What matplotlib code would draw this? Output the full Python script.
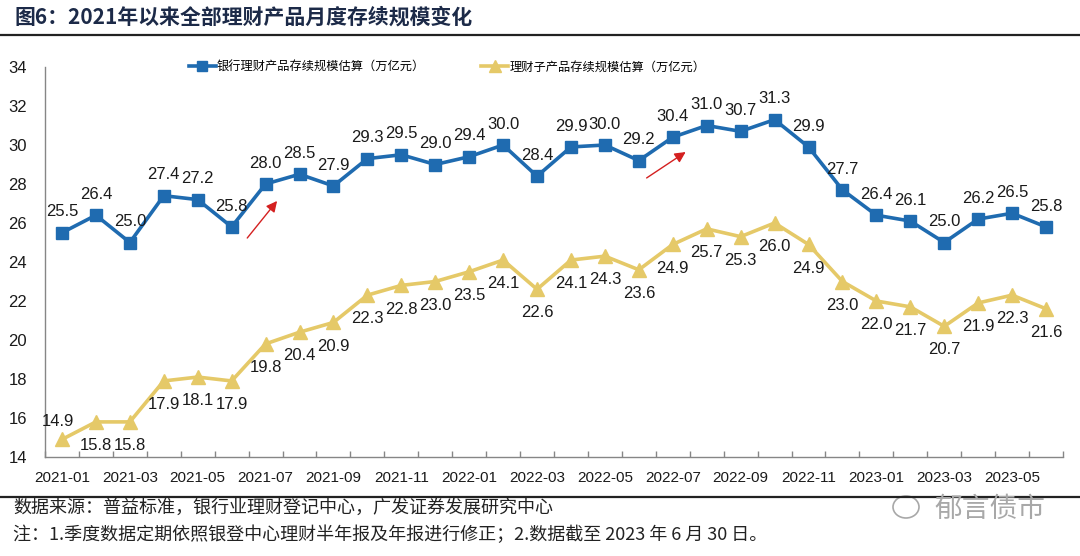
import matplotlib
matplotlib.use('Agg')
import matplotlib.pyplot as plt
import numpy as np
from matplotlib.lines import Line2D
from matplotlib.patches import Ellipse

# ---------------- data ----------------
months = ['2021-01', '2021-02', '2021-03', '2021-04', '2021-05', '2021-06',
          '2021-07', '2021-08', '2021-09', '2021-10', '2021-11', '2021-12',
          '2022-01', '2022-02', '2022-03', '2022-04', '2022-05', '2022-06',
          '2022-07', '2022-08', '2022-09', '2022-10', '2022-11', '2022-12',
          '2023-01', '2023-02', '2023-03', '2023-04', '2023-05', '2023-06']
bank_scale = [25.5, 26.4, 25.0, 27.4, 27.2, 25.8, 28.0, 28.5, 27.9, 29.3,
              29.5, 29.0, 29.4, 30.0, 28.4, 29.9, 30.0, 29.2, 30.4, 31.0,
              30.7, 31.3, 29.9, 27.7, 26.4, 26.1, 25.0, 26.2, 26.5, 25.8]
sub_scale = [14.9, 15.8, 15.8, 17.9, 18.1, 17.9, 19.8, 20.4, 20.9, 22.3,
             22.8, 23.0, 23.5, 24.1, 22.6, 24.1, 24.3, 23.6, 24.9, 25.7,
             25.3, 26.0, 24.9, 23.0, 22.0, 21.7, 20.7, 21.9, 22.3, 21.6]
series_names = ['银行理财产品存续规模估算（万亿元）', '理财子产品存续规模估算（万亿元）']
y_ticks = list(range(14, 35, 2))

title = '图6：2021年以来全部理财产品月度存续规模变化'
source_note = '数据来源：普益标准，银行业理财登记中心，广发证券发展研究中心'
note2 = '注：1.季度数据定期依照银登中心理财半年报及年报进行修正；2.数据截至 2023 年 6 月 30 日。'
watermark = '郁言债市'

# ---------------- style ----------------
BLUE = '#1f6bb0'
YELLOW = '#e5c968'
GRAY = '#868686'
CJK = ['Noto Sans CJK SC', 'DejaVu Sans']
plt.rcParams['font.family'] = ['Liberation Sans', 'Noto Sans CJK SC', 'DejaVu Sans']

W, H = 1080, 556
fig = plt.figure(figsize=(W / 100, H / 100), dpi=100)
ax = fig.add_axes([45 / W, (H - 457) / H, (1063 - 45) / W, (457 - 67) / H])

x = np.arange(len(months))
ax.plot(x, bank_scale, color=BLUE, lw=2.6, marker='s', ms=9, zorder=3)
ax.plot(x, sub_scale, color=YELLOW, lw=2.6, marker='^', ms=10, zorder=3)

for i, v in enumerate(bank_scale):
    ax.annotate(f'{v:.1f}', (i, v), xytext=(0, 15), textcoords='offset points',
                ha='center', va='center', fontsize=12, color='#1a1a1a')
for i, v in enumerate(sub_scale):
    dy = 13 if i == 0 else -17
    dx = -3 if i == 0 else 0
    ax.annotate(f'{v:.1f}', (i, v), xytext=(dx, dy), textcoords='offset points',
                ha='center', va='center', fontsize=12, color='#1a1a1a')

# red trend arrows
for (x0, y0), (x1, y1) in [((5.46, 25.23), (6.34, 27.13)),
                           ((17.23, 28.31), (18.38, 29.64))]:
    ax.annotate('', xy=(x1, y1), xytext=(x0, y0),
                arrowprops=dict(arrowstyle='-|>', color='#d42020', lw=1.0,
                                mutation_scale=16, shrinkA=0, shrinkB=0))

ax.set_xlim(-0.5, len(months) - 0.5)
ax.set_ylim(14, 34)
ax.set_yticks(y_ticks)
ax.set_yticklabels([str(t) for t in y_ticks], fontsize=12)
ax.set_xticks(x[::2])
ax.set_xticklabels(months[::2], fontsize=11)
ax.set_xticks(np.arange(-0.5, len(months), 1), minor=True)
ax.tick_params(axis='x', which='major', length=0, pad=10, colors='#1a1a1a')
ax.tick_params(axis='x', which='minor', direction='in', length=4, color=GRAY, width=1)
ax.tick_params(axis='y', length=0, pad=13, colors='#1a1a1a')
for s in ['top', 'right']:
    ax.spines[s].set_visible(False)
for s in ['left', 'bottom']:
    ax.spines[s].set_color(GRAY)
    ax.spines[s].set_linewidth(1)

handles = [Line2D([], [], color=BLUE, lw=2.6, marker='s', ms=7),
           Line2D([], [], color=YELLOW, lw=2.6, marker='^', ms=8)]
fig.legend(handles, series_names, loc='center', ncol=2, frameon=False,
           bbox_to_anchor=(447 / W, (H - 67) / H), prop={'family': CJK, 'size': 8.8},
           handlelength=2.2, handletextpad=0.1, columnspacing=4.6, borderpad=0)

# title and rules
fig.text(15 / W, (H - 17) / H, title, fontsize=15, fontweight='bold', color='#1c2a48',
         family=CJK, ha='left', va='center')
fig.add_artist(Line2D([0, 1], [(H - 35) / H] * 2, color='#222222', lw=1.6))
fig.add_artist(Line2D([0, 1], [(H - 497) / H] * 2, color='#222222', lw=1.6))

fig.text(13 / W, (H - 508) / H, source_note, fontsize=13, color='#222222',
         family=CJK, ha='left', va='center')
fig.text(13 / W, (H - 535) / H, note2, fontsize=13, color='#222222',
         family=CJK, ha='left', va='center')

# watermark
fig.text(990 / W, (H - 509) / H, watermark, fontsize=20, color='#a8a8a8',
         family=CJK, ha='center', va='center')
fig.add_artist(Ellipse((906 / W, (H - 507) / H), 26 / W, 22 / H, fill=False,
                       edgecolor='#a8a8a8', lw=1.2, transform=fig.transFigure))

fig.savefig('out.png', dpi=100)
